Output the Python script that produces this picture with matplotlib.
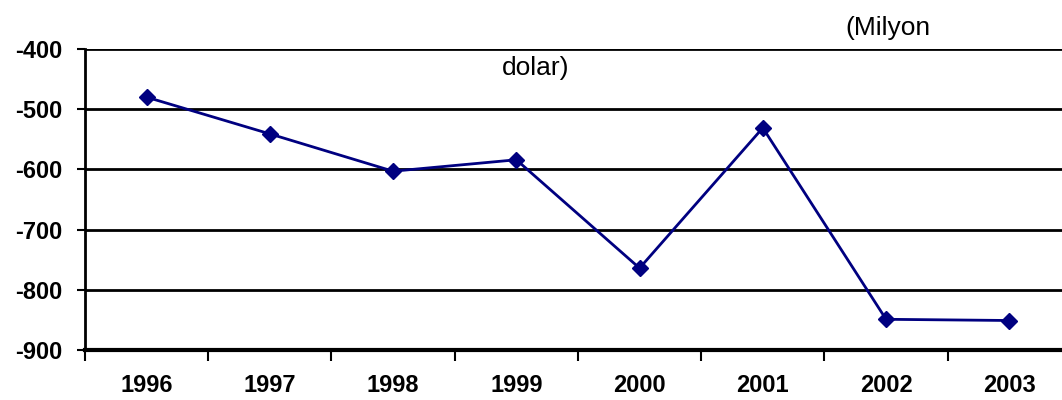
import matplotlib.pyplot as plt

# Yillar ve degerler (milyon dolar)
yillar = ["1996", "1997", "1998", "1999", "2000", "2001", "2002", "2003"]
degerler = [-480, -541, -603, -584, -764, -531, -849, -851]
y_ticks = [-900, -800, -700, -600, -500, -400]

lacivert = "#000080"
baslik_font = ["Liberation Sans Narrow", "Liberation Sans", "DejaVu Sans"]
etiket_font = ["Liberation Sans", "DejaVu Sans"]

fig = plt.figure(figsize=(10.62, 4.0), dpi=100)
ax = fig.add_axes([0.080, 0.125, 0.9284, 0.7525])

x = list(range(len(yillar)))
ax.plot(x, degerler, color=lacivert, linewidth=2, marker="D", markersize=8,
        markerfacecolor=lacivert, markeredgecolor=lacivert, zorder=3)

ax.set_xlim(-0.5, len(yillar) - 0.5)
ax.set_ylim(-900, -400)

ax.set_yticks(y_ticks)
ax.set_yticklabels([str(v) for v in y_ticks], fontsize=17, fontweight="bold",
                   family=etiket_font)
ax.yaxis.grid(True, color="black", linewidth=2)
ax.tick_params(axis="y", length=6, width=1.5, pad=10)

# kategori sinirlarinda tikler, etiketler ortada
ax.set_xticks([i - 0.5 for i in range(len(yillar) + 1)])
ax.set_xticklabels([])
ax.tick_params(axis="x", which="major", length=8, width=1.5)
ax.set_xticks(x, minor=True)
ax.set_xticklabels(yillar, minor=True, fontsize=17, fontweight="bold",
                   family=etiket_font)
ax.tick_params(axis="x", which="minor", length=0, pad=17)

for s in ["top", "right"]:
    ax.spines[s].set_visible(False)
ax.spines["left"].set_linewidth(2)
ax.spines["bottom"].set_linewidth(3)
ax.set_axisbelow(True)

# kesik baslik parcalari (ust satir resmin disinda kaliyor)
fig.text(0.507, 1.0 + 6 / 400, "(Milyon dolar)", ha="center", va="baseline",
         fontsize=19, family=baslik_font)
fig.text(0.836, 0.93, "(Milyon", ha="center", va="center",
         fontsize=19, family=baslik_font)
fig.text(0.504, 0.83, "dolar)", ha="center", va="center",
         fontsize=19, family=baslik_font)

fig.savefig("out.png", dpi=100)
